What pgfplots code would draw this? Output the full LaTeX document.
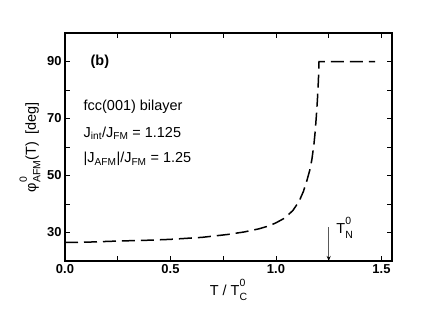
\documentclass[border=0pt]{standalone}
\usepackage{fontspec}
\setmainfont{Liberation Sans}
\usepackage{amsmath}
\usepackage{pgfplots}
\pgfplotsset{compat=1.18}
\usetikzlibrary{arrows.meta}

% stacked super/subscript in the text font
\newcommand{\supsub}[2]{\rlap{\raisebox{0.62em}{\fontsize{10.5}{12}\selectfont #1}}\raisebox{-0.32em}{\fontsize{10.5}{12}\selectfont #2}}

\begin{document}
\begin{tikzpicture}
\useasboundingbox (0,0) rectangle (423bp,327bp);
\begin{axis}[
  at={(65bp,66bp)}, anchor=south west,
  width=327bp, height=228bp, scale only axis,
  xmin=0, xmax=1.55, ymin=20, ymax=100,
  xtick={0,0.5,1.0,1.5}, minor xtick={0.25,0.75,1.25},
  ytick={30,50,70,90}, minor ytick={40,60,80},
  major tick length=5bp, minor tick length=5bp,
  tick style={black, line width=0.9bp},
  axis line style={line width=1.1bp},
  /pgf/number format/assume math mode=true,
  xticklabel style={font=\fontsize{13}{15}\selectfont\bfseries,
    /pgf/number format/.cd, fixed, fixed zerofill, precision=1},
  yticklabel style={font=\fontsize{13}{15}\selectfont\bfseries},
  xlabel={T / T\supsub{0}{C}},
  ylabel={φ\supsub{0}{AFM}(T)\ \ [deg]},
  label style={font=\fontsize{14.5}{17}\selectfont},
  xlabel style={at={(axis description cs:0.5,-0.127)}, anchor=center},
  ylabel style={at={(axis description cs:-0.107,0.5)}, anchor=center},
]
\addplot[black, line width=1.5bp, dash pattern=on 13bp off 6bp] coordinates {
  (0,26.5) (0.1,26.6) (0.25,27.0) (0.4,27.3) (0.5,27.6) (0.65,28.3)
  (0.77,29.3) (0.85,30.2) (0.92,31.3) (0.97,32.4) (1.0,33.4) (1.04,35.0)
  (1.08,37.7) (1.11,41.0) (1.13,44.4) (1.145,47.8) (1.16,51.8) (1.17,55.5)
  (1.18,61) (1.186,65.5) (1.191,70.5) (1.196,76) (1.199,80) (1.202,85)
  (1.204,90) (1.47,90)
};
\draw[gray!70!black, line width=0.8bp, -{Stealth[black, length=5bp, width=4bp]}]
  (axis cs:1.25,31.8) -- (axis cs:1.25,20);
\node[anchor=west, font=\fontsize{14.5}{17}\selectfont] at (axis cs:1.27,31.6)
  {T\supsub{0}{N}};
\node[anchor=west, font=\fontsize{14.5}{17}\selectfont\bfseries] at (axis cs:0.105,90) {(b)};
\node[anchor=west, font=\fontsize{14.5}{17}\selectfont] at (axis cs:0.072,74.2) {fcc(001) bilayer};
\node[anchor=west, font=\fontsize{14.5}{17}\selectfont] at (axis cs:0.072,64.8)
  {J$_{\text{int}}$/J$_{\text{FM}}$ = 1.125};
\node[anchor=west, font=\fontsize{14.5}{17}\selectfont] at (axis cs:0.072,55.7)
  {|J$_{\text{AFM}}$|/J$_{\text{FM}}$ = 1.25};
\end{axis}
\end{tikzpicture}
\end{document}
